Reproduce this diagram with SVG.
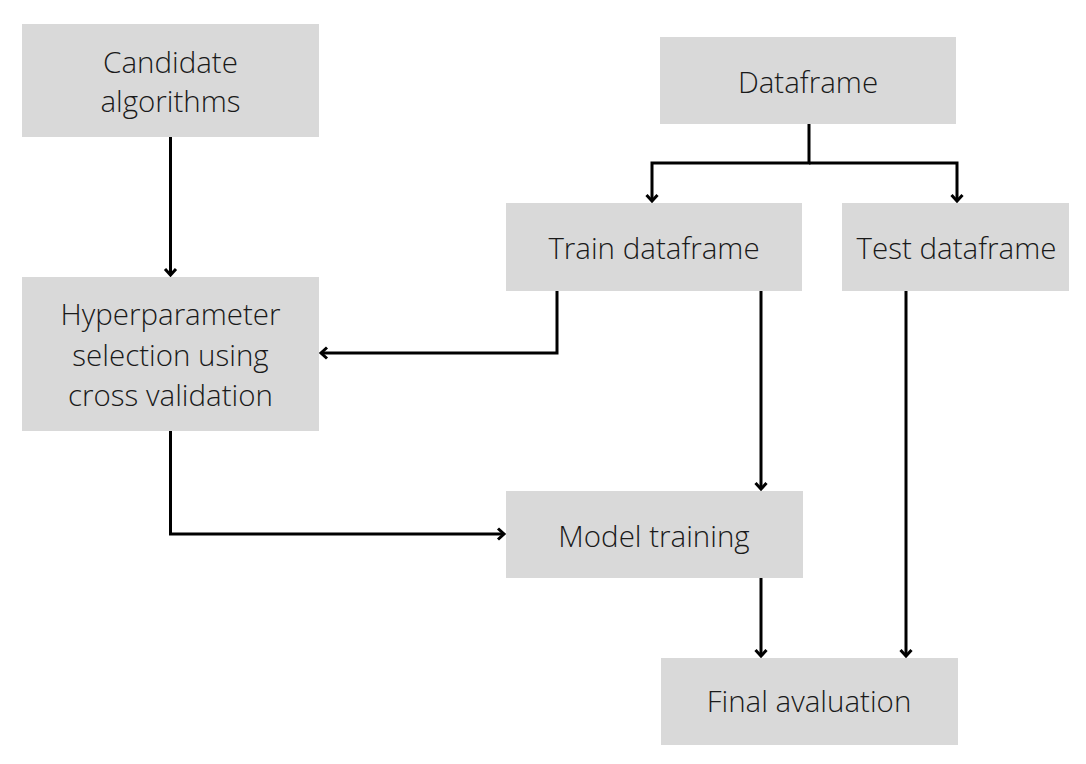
<svg xmlns="http://www.w3.org/2000/svg" width="1086" height="764" viewBox="0 0 1086 764">
<style>
.box{fill:#d9d9d9;}
.lbl{font-family:"Open Sans","Liberation Sans",sans-serif;font-size:29.5px;font-weight:300;fill:#1a1a1a;text-anchor:middle;}
.con{fill:none;stroke:#000;stroke-width:3;}
</style>
<defs>
<marker id="arr" markerUnits="userSpaceOnUse" markerWidth="20" markerHeight="20" viewBox="-10 -10 20 20" refX="0" refY="0" orient="auto">
<path d="M-6,-5.5 L0,0 L-6,5.5" fill="none" stroke="#000" stroke-width="3"/>
</marker>
</defs>
<rect width="1086" height="764" fill="#ffffff"/>
<g id="connectors">
<path class="con" d="M170.5,137 V275" marker-end="url(#arr)"/>
<path class="con" d="M809,124 V163 H652 V201" marker-end="url(#arr)"/>
<path class="con" d="M809,163 H957 V201" marker-end="url(#arr)"/>
<path class="con" d="M557,291 V353 H321" marker-end="url(#arr)"/>
<path class="con" d="M761,291 V489" marker-end="url(#arr)"/>
<path class="con" d="M906,291 V656" marker-end="url(#arr)"/>
<path class="con" d="M170.5,431 V534 H504" marker-end="url(#arr)"/>
<path class="con" d="M761,578 V656" marker-end="url(#arr)"/>
</g>
<g id="candidate">
<rect class="box" x="22" y="24" width="297" height="113"/>
<text class="lbl" x="170.5" y="72.5">Candidate</text>
<text class="lbl" x="170.5" y="111.5">algorithms</text>
</g>
<g id="dataframe">
<rect class="box" x="660" y="37" width="296" height="87"/>
<text class="lbl" x="808" y="93">Dataframe</text>
</g>
<g id="train">
<rect class="box" x="506" y="203" width="296" height="88"/>
<text class="lbl" x="654" y="259">Train dataframe</text>
</g>
<g id="test">
<rect class="box" x="842" y="203" width="227" height="88"/>
<text class="lbl" x="956.5" y="259">Test dataframe</text>
</g>
<g id="hyper">
<rect class="box" x="22" y="277" width="297" height="154"/>
<text class="lbl" x="170.5" y="325">Hyperparameter</text>
<text class="lbl" x="170.5" y="365.5">selection using</text>
<text class="lbl" x="170.5" y="406">cross validation</text>
</g>
<g id="model">
<rect class="box" x="506" y="491" width="297" height="87"/>
<text class="lbl" x="654" y="547">Model training</text>
</g>
<g id="final">
<rect class="box" x="661" y="658" width="297" height="87"/>
<text class="lbl" x="809" y="712">Final avaluation</text>
</g>
</svg>
